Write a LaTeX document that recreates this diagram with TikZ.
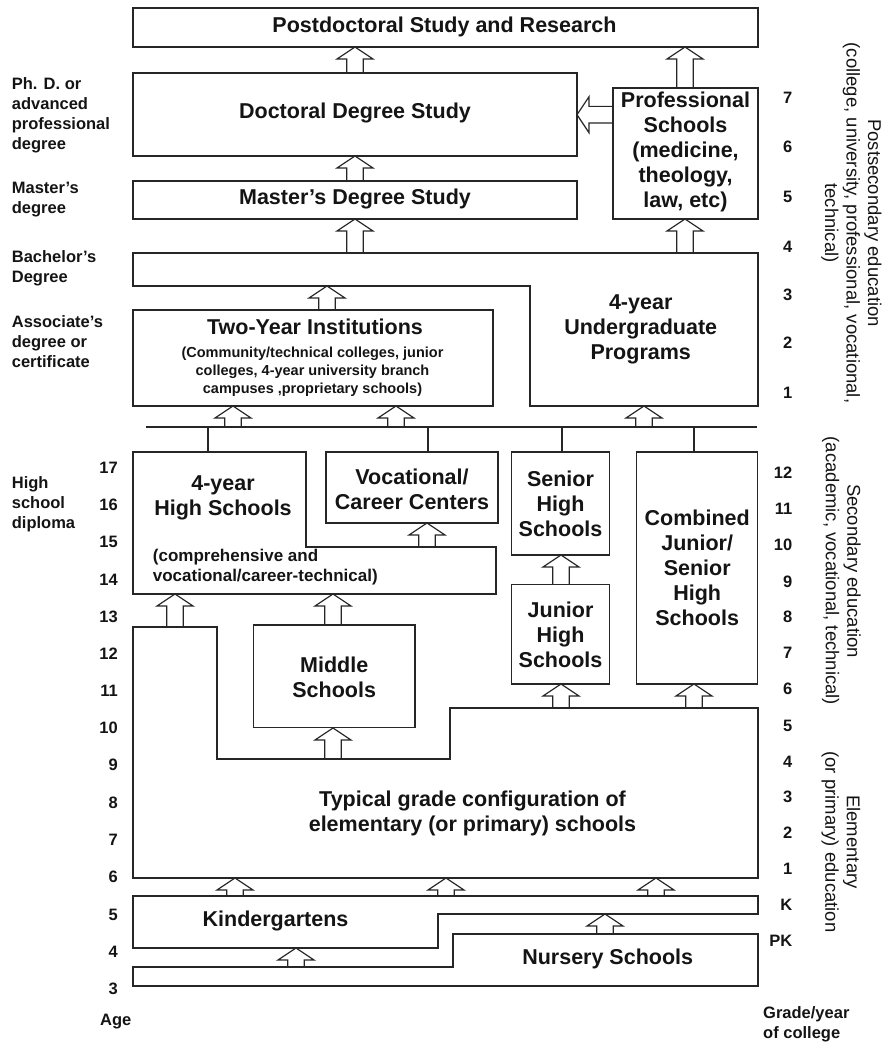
\documentclass[tikz,border=0pt]{standalone}
\usepackage{fontspec}
\setmainfont{Liberation Sans}
\tikzset{
  ln/.style={draw=black!85, line width=1.2pt},
  boxnode/.style={ln, rectangle, inner sep=0pt, outer sep=0pt},
  bigtxt/.style={font=\fontsize{21.5}{25}\selectfont\bfseries, text=black!92, align=center, inner sep=0pt},
  medtxt/.style={font=\fontsize{16.5}{20}\selectfont\bfseries, text=black!92, align=left, inner sep=0pt},
  subtxt/.style={font=\fontsize{14.5}{18}\selectfont\bfseries, text=black!92, align=center, inner sep=0pt},
  numtxt/.style={font=\fontsize{16.5}{20}\selectfont\bfseries, text=black!92, inner sep=0pt, anchor=east},
  verttxt/.style={font=\fontsize{18.5}{21.5}\selectfont, text=black!92, align=center, inner sep=0pt, rotate=-90},
  blkarrow/.style={ln, line join=miter},
}
\newcommand\BlkUpArrow[3]{%
  \draw[blkarrow] (#1-8.3,#2) -- (#1-8.3,#3+12) -- (#1-18,#3+12) -- (#1,#3)
     -- (#1+18,#3+12) -- (#1+8.3,#3+12) -- (#1+8.3,#2);}
\begin{document}
\begin{tikzpicture}[x=1pt,y=-1pt]
\useasboundingbox (0,0) rectangle (883,1043);

% ---------- postsecondary boxes ----------
\node[boxnode, minimum width=625pt, minimum height=39pt] (post) at (445.5,27.5) {};
\node[bigtxt] (postT) at (444.5,27) {Postdoctoral Study and Research};

\node[boxnode, minimum width=444pt, minimum height=83pt] (doc) at (355,114.5) {};
\node[bigtxt] (docT) at (355,113) {Doctoral Degree Study};

\node[boxnode, minimum width=444pt, minimum height=38pt] (mas) at (355,200) {};
\node[bigtxt] (masT) at (355,199) {Master’s Degree Study};

\node[boxnode, minimum width=145pt, minimum height=131pt] (prof) at (685.5,153.5) {};
\node[bigtxt] (profT) at (685.5,152) {Professional\\Schools\\(medicine,\\theology,\\law, etc)};

% bachelor / undergraduate L-shape
\draw[ln] (133,253) -- (758,253) -- (758,406) -- (530,406) -- (530,286) -- (133,286) -- cycle;
\node[bigtxt] (ugT) at (640.7,329) {4-year\\Undergraduate\\Programs};

\node[boxnode, minimum width=360pt, minimum height=96pt] (two) at (313,358) {};
\node[bigtxt] (twoT) at (315,327) {Two-Year Institutions};
\node[subtxt] (twoS) at (312.5,372) {(Community/technical colleges, junior\\colleges, 4-year university branch\\campuses ,proprietary schools)};

% ---------- distribution bar ----------
\coordinate (barL) at (146,427);
\coordinate (barR) at (757,427);
\draw[ln] (barL) -- (barR);
\draw[ln] (208,427) -- (208,452);
\draw[ln] (428,427) -- (428,452);
\draw[ln] (562,427) -- (562,452);
\draw[ln] (694,427) -- (694,452);

% ---------- secondary ----------
\draw[ln] (133,452) -- (306,452) -- (306,547) -- (496,547) -- (496,594) -- (133,594) -- cycle;
\node[bigtxt] (hsT) at (223,497.5) {4-year\\High Schools};
\node[medtxt, anchor=west, font=\fontsize{17}{19.7}\selectfont\bfseries] (hsS) at (152.7,567) {(comprehensive and\\vocational/career-technical)};

\node[boxnode, minimum width=172pt, minimum height=71pt] (voc) at (412,487.5) {};
\node[bigtxt] (vocT) at (412,489) {Vocational/\\Career Centers};

\node[boxnode, minimum width=97.6pt, minimum height=103pt] (sen) at (560.5,503.5) {};
\node[bigtxt] (senT) at (560.5,504) {Senior\\High\\Schools};

\node[boxnode, minimum width=97.6pt, minimum height=99.7pt] (jun) at (560.5,634.2) {};
\node[bigtxt] (junT) at (560.5,635) {Junior\\High\\Schools};

\node[boxnode, minimum width=121pt, minimum height=232pt] (comb) at (697.2,568) {};
\node[bigtxt] (combT) at (697.2,568) {Combined\\Junior/\\Senior\\High\\Schools};

\node[boxnode, minimum width=161.7pt, minimum height=102.7pt] (mid) at (334.2,676.4) {};
\node[bigtxt] (midT) at (334.2,677.5) {Middle\\Schools};

% ---------- elementary ----------
\draw[ln] (133,627) -- (217,627) -- (217,759) -- (450,759) -- (450,708) -- (758,708) -- (758,878) -- (133,878) -- cycle;
\node[bigtxt] (elemT) at (472.5,813) {Typical grade configuration of\\elementary (or primary) schools};

\draw[ln] (133,896) -- (758,896) -- (758,914) -- (438,914) -- (438,948) -- (133,948) -- cycle;
\node[bigtxt] (kindT) at (275.5,921) {Kindergartens};

\draw[ln] (133,967) -- (453,967) -- (453,934) -- (758,934) -- (758,986) -- (133,986) -- cycle;
\node[bigtxt] (nursT) at (607.7,959) {Nursery Schools};

% ---------- block arrows ----------
\BlkUpArrow{355}{73}{47}
\BlkUpArrow{685}{88}{47}
\BlkUpArrow{355}{181}{156}
\BlkUpArrow{355}{253}{219}
\BlkUpArrow{685}{253}{219}
\BlkUpArrow{327}{310}{286}
\BlkUpArrow{233}{427}{406}
\BlkUpArrow{396}{427}{406}
\BlkUpArrow{644}{427}{406}
\BlkUpArrow{427}{547}{523}
\BlkUpArrow{561}{584}{555}
\BlkUpArrow{175}{627}{594}
\BlkUpArrow{333}{625}{594}
\BlkUpArrow{333}{759}{728}
\BlkUpArrow{561}{708}{684}
\BlkUpArrow{694}{708}{684}
\BlkUpArrow{235}{896}{878}
\BlkUpArrow{446}{896}{878}
\BlkUpArrow{656}{896}{878}
\BlkUpArrow{296}{967}{948}
\BlkUpArrow{605}{934}{914}
\draw[blkarrow] (613,106.4) -- (589,106.4) -- (589,96.7) -- (577,114.7)
   -- (589,132.7) -- (589,123) -- (613,123);

% ---------- left labels ----------
\node[medtxt, anchor=west] (lPhd) at (11.7,115.5) {Ph. D. or\\advanced\\professional\\degree};
\node[medtxt, anchor=west] (lMas) at (11.7,200) {Master’s\\degree};
\node[medtxt, anchor=west] (lBac) at (11.7,268) {Bachelor’s\\Degree};
\node[medtxt, anchor=west] (lAss) at (11.7,342) {Associate’s\\degree or\\certificate};
\node[medtxt, anchor=west] (lHs) at (11.7,504.5) {High\\school\\diploma};
\node[medtxt, anchor=west] (lAge) at (100,1022) {Age};
\node[medtxt, anchor=west] (lGy) at (763,1024) {Grade/year\\of college};

% ages
\foreach \a/\y in {17/468,16/505,15/542,14/580,13/617,12/654,11/691,10/728,9/765,8/803,7/840,6/877,5/915,4/952,3/989}
  \node[numtxt] (age\a) at (118,\y) {\a};

% grades
\foreach \g/\y/\n in {7/98/a,6/147/b,5/197/c,4/247/d,3/295/e,2/343/f,1/393/g,
  12/473/h,11/509/i,10/545/j,9/582/k,8/617/l,7/653/m,6/689/n,5/726/o,4/762/p,3/797/q,2/833/r,1/869/s,K/905/t,PK/941/u}
  \node[numtxt] (gr\n) at (792.5,\y) {\g};

% ---------- right vertical labels ----------
\node[verttxt] (vPost) at (851.5,223) {Postsecondary education\\(college, university, professional, vocational,\\technical)};
\node[verttxt] (vSec) at (841.5,571) {Secondary education\\(academic, vocational, technical)};
\node[verttxt] (vEle) at (841,842) {Elementary\\(or primary) education};
\end{tikzpicture}
\end{document}
